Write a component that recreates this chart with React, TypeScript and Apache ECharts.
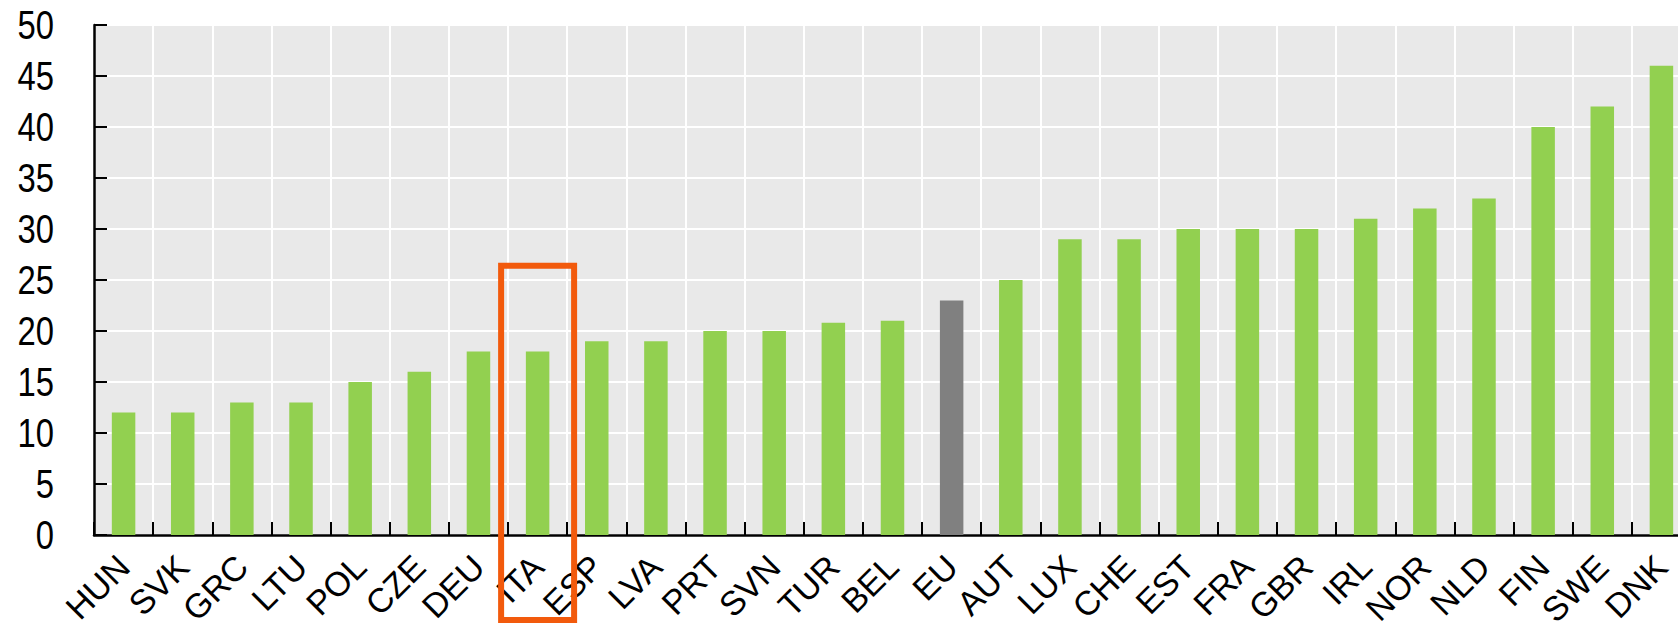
import React, { useEffect, useRef } from "react";
import * as echarts from "echarts";

const categories = [
  "HUN", "SVK", "GRC", "LTU", "POL", "CZE", "DEU", "ITA", "ESP", "LVA",
  "PRT", "SVN", "TUR", "BEL", "EU", "AUT", "LUX", "CHE", "EST", "FRA",
  "GBR", "IRL", "NOR", "NLD", "FIN", "SWE", "DNK",
];
const values = [
  12, 12, 13, 13, 15, 16, 18, 18, 19, 19,
  20, 20, 20.8, 21, 23, 25, 29, 29, 30, 30,
  30, 31, 32, 33, 40, 42, 46,
];
const yTicks = [0, 5, 10, 15, 20, 25, 30, 35, 40, 45, 50];
const highlightCategory = "ITA";
const highlightTopValue = 26.4;
const aggregateCategory = "EU";

const GREEN = "#92D050";
const GREY = "#808080";
const ORANGE = "#F25A0C";

const GRID_LEFT = 94;

export default function App() {
  const ref = useRef<HTMLDivElement>(null);

  useEffect(() => {
    document.body.style.margin = "0";
    document.body.style.overflow = "hidden";
    if (!ref.current) return;
    const chart = echarts.init(ref.current, undefined, { renderer: "svg" });
    chart.setOption({
      animation: false,
      grid: {
        left: GRID_LEFT,
        top: 25,
        width: 1597,
        height: 510,
        containLabel: false,
        outerBoundsMode: "none",
        show: true,
        backgroundColor: "#E9E9E9",
        borderWidth: 0,
      },
      xAxis: {
        type: "category",
        data: categories,
        boundaryGap: true,
        axisLine: { show: true, lineStyle: { color: "#000", width: 2.5 } },
        axisTick: {
          show: true,
          inside: true,
          length: 13,
          lineStyle: { color: "#000", width: 2 },
        },
        splitLine: { show: true, lineStyle: { color: "#fff", width: 2 } },
        axisLabel: {
          rotate: 45,
          margin: 26,
          fontSize: 34,
          color: "#000",
          fontFamily: "Liberation Sans, Arial, sans-serif",
          interval: 0,
        },
      },
      yAxis: {
        type: "value",
        min: yTicks[0],
        max: yTicks[yTicks.length - 1],
        interval: 5,
        axisLine: { show: true, lineStyle: { color: "#000", width: 2.5 } },
        axisTick: {
          show: true,
          inside: true,
          length: 13,
          lineStyle: { color: "#000", width: 2 },
        },
        splitLine: { show: true, lineStyle: { color: "#fff", width: 2 } },
        axisLabel: { show: false },
      },
      series: [
        {
          type: "bar",
          barWidth: 23.5,
          data: categories.map((c, i) => ({
            value: values[i],
            itemStyle: { color: c === aggregateCategory ? GREY : GREEN },
          })),
        },
      ],
    });

    const cx = chart.convertToPixel({ xAxisIndex: 0 }, highlightCategory) as number;
    const topY = chart.convertToPixel({ yAxisIndex: 0 }, highlightTopValue) as number;
    const baseY = chart.convertToPixel({ yAxisIndex: 0 }, 0) as number;
    const rectW = 73;
    const bottomY = baseY + 85;

    const yLabels = yTicks.map((t) => ({
      type: "text",
      x: GRID_LEFT - 40,
      y: chart.convertToPixel({ yAxisIndex: 0 }, t) as number,
      scaleX: 0.8,
      z: 50,
      style: {
        text: String(t),
        x: 0,
        y: 0,
        align: "right",
        verticalAlign: "middle",
        fontSize: 41,
        fontFamily: "Liberation Sans, Arial, sans-serif",
        fill: "#000",
      },
    }));

    chart.setOption({
      graphic: [
        ...yLabels,
        {
          type: "rect",
          z: 100,
          shape: { x: cx - rectW / 2, y: topY, width: rectW, height: bottomY - topY },
          style: { fill: "none", stroke: ORANGE, lineWidth: 6 },
        },
      ],
    });

    return () => chart.dispose();
  }, []);

  return (
    <div
      style={{
        position: "fixed",
        left: 0,
        top: 0,
        width: 1678,
        height: 631,
        overflow: "hidden",
        background: "#fff",
      }}
    >
      <div ref={ref} style={{ width: 1700, height: 631 }} />
    </div>
  );
}
